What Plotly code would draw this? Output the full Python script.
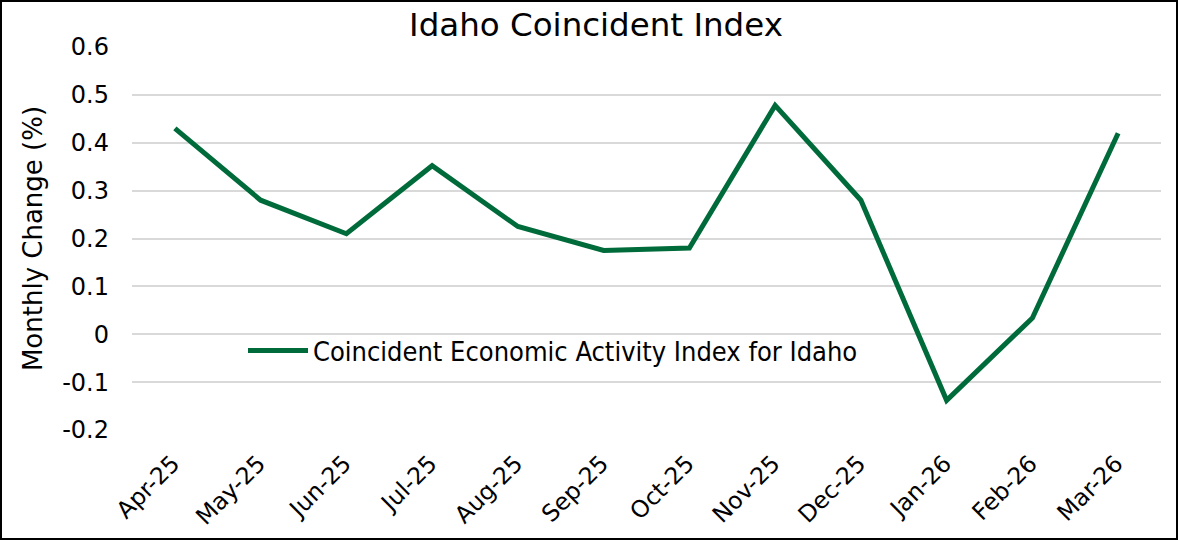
import plotly.graph_objects as go

months = ["Apr-25", "May-25", "Jun-25", "Jul-25", "Aug-25", "Sep-25",
          "Oct-25", "Nov-25", "Dec-25", "Jan-26", "Feb-26", "Mar-26"]
values = [0.43, 0.28, 0.21, 0.352, 0.225, 0.175, 0.18, 0.478, 0.28, -0.138, 0.034, 0.42]
y_ticks = [-0.2, -0.1, 0, 0.1, 0.2, 0.3, 0.4, 0.5, 0.6]
y_tick_text = ["-0.2", "-0.1", "0", "0.1", "0.2", "0.3", "0.4", "0.5", "0.6"]

W, H = 1178, 540
ml, mr, mt, mb = 132, 17, 47, 110
pw, ph = W - ml - mr, H - mt - mb

fig = go.Figure()
fig.add_trace(go.Scatter(
    x=months, y=values, mode="lines",
    name="Coincident Economic Activity Index for Idaho",
    line=dict(color="#006B3A", width=5),
))

fig.update_layout(
    width=W, height=H,
    margin=dict(l=ml, r=mr, t=mt, b=mb, autoexpand=False),
    paper_bgcolor="white", plot_bgcolor="white",
    font=dict(family="DejaVu Sans", color="#000000", size=22),
    title=dict(text="Idaho Coincident Index", x=596 / W, xanchor="center",
               y=1 - 25 / H, yanchor="middle",
               font=dict(size=32.5, family="DejaVu Sans", color="#000")),
    showlegend=True,
    legend=dict(x=(243 - ml) / pw, y=(430 - 351) / ph, xanchor="left", yanchor="middle",
                bgcolor="rgba(0,0,0,0)", itemwidth=60,
                font=dict(size=27, family="DejaVu Sans Condensed, DejaVu Sans")),
    xaxis=dict(type="category", range=[-0.5, 11.5], tickangle=-45,
               showgrid=False, showline=False, ticks="", automargin=False,
               ticklabelshift=-2, ticklabelstandoff=14,
               tickfont=dict(size=23.5)),
    yaxis=dict(range=[-0.2, 0.6], tickvals=y_ticks, ticktext=y_tick_text,
               showgrid=True, gridcolor="#D9D9D9", gridwidth=2,
               zeroline=False, showline=False, ticks="", automargin=False,
               ticklabelstandoff=22,
               title=dict(text="Monthly Change (%)", font=dict(size=26), standoff=12),
               tickfont=dict(size=24)),
    shapes=[dict(type="rect", xref="paper", yref="paper",
                 x0=(-ml + 1) / pw, x1=(W - ml - 1) / pw,
                 y0=(-mb + 1) / ph, y1=(H - mb - 1) / ph,
                 line=dict(color="black", width=2), fillcolor="rgba(0,0,0,0)", layer="above")],
)

fig.write_html("out.html", config={"displayModeBar": False},
               post_script="document.body.style.margin='0';")
